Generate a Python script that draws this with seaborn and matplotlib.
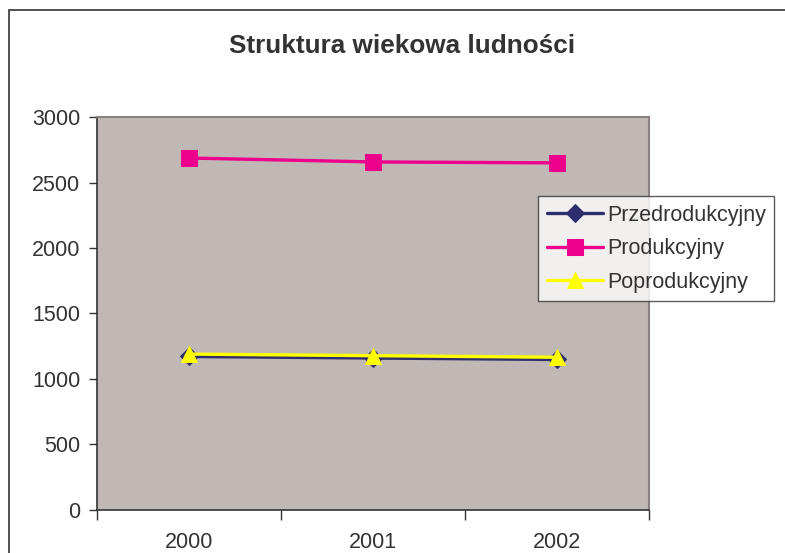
import pandas as pd
import matplotlib
matplotlib.use("Agg")
import matplotlib.pyplot as plt
import seaborn as sns
from matplotlib.patches import Rectangle

#   Data
years = [2000, 2001, 2002]
przedprodukcyjny = [1172, 1160, 1149]
produkcyjny = [2687, 2657, 2650]
poprodukcyjny = [1190, 1178, 1166]
series_names = ["Przedrodukcyjny", "Produkcyjny", "Poprodukcyjny"]
y_ticks = [0, 500, 1000, 1500, 2000, 2500, 3000]

df = pd.DataFrame({
    "Rok": years * 3,
    "Liczba": przedprodukcyjny + produkcyjny + poprodukcyjny,
    "Grupa": [series_names[0]] * 3 + [series_names[1]] * 3 + [series_names[2]] * 3,
})

sns.set_style("white")
plt.rcParams["font.family"] = ["Liberation Sans", "DejaVu Sans"]
text_color = "#333333"

fig = plt.figure(figsize=(7.85, 5.53), dpi=100)
ax = fig.add_axes([0.1236, 0.0778, 0.7032, 0.7106])

#   Outer chart frame
fig.patches.append(Rectangle((9 / 785, -0.1), 1.2, 1 - 10 / 553 + 0.1,
                             transform=fig.transFigure, fill=False,
                             edgecolor="#333333", linewidth=1.2))

palette = {"Przedrodukcyjny": "#2E2E6E", "Produkcyjny": "#EC008C", "Poprodukcyjny": "#FFFF00"}
markers = {"Przedrodukcyjny": "D", "Produkcyjny": "s", "Poprodukcyjny": "^"}
sizes = {"Przedrodukcyjny": 9, "Produkcyjny": 11, "Poprodukcyjny": 12}

for name in series_names:
    sub = df[df["Grupa"] == name]
    sns.lineplot(data=sub, x="Rok", y="Liczba", ax=ax, color=palette[name],
                 marker=markers[name], markersize=sizes[name], linewidth=2.4,
                 markeredgecolor=palette[name], label=name)

ax.set_facecolor("#C0B8B4")
ax.set_xlim(1999.5, 2002.5)
ax.set_ylim(0, 3000)
ax.set_yticks(y_ticks)
ax.set_xticks(years)
ax.set_xticks([1999.5, 2000.5, 2001.5, 2002.5], minor=True)
ax.set_xlabel("")
ax.set_ylabel("")
ax.tick_params(axis="y", which="major", direction="out", length=6, width=1,
               color="#333333", labelsize=15.5, labelcolor=text_color, pad=6, left=True)
ax.tick_params(axis="x", which="major", length=0, labelsize=15.5, labelcolor=text_color, pad=16)
ax.tick_params(axis="x", which="minor", direction="out", length=7, width=1,
               color="#333333", bottom=True)

for side in ["top", "right"]:
    ax.spines[side].set_color("#8A8080")
    ax.spines[side].set_linewidth(1.5)
for side in ["left", "bottom"]:
    ax.spines[side].set_color("#333333")
    ax.spines[side].set_linewidth(1.2)

fig.text(0.512, 0.916, "Struktura wiekowa ludności", ha="center", va="center",
         fontsize=18.8, fontweight="bold", color=text_color)

leg = ax.legend(loc="upper left", bbox_to_anchor=(538 / 785, 1 - 196 / 553),
                bbox_transform=fig.transFigure, fontsize=15.5, frameon=True,
                fancybox=False, edgecolor="#333333", handlelength=2.6,
                labelspacing=0.58, borderpad=0.4, handletextpad=0.2,
                borderaxespad=0)
leg.get_frame().set_linewidth(1.0)
for t in leg.get_texts():
    t.set_color(text_color)

fig.savefig("out.png", dpi=100, facecolor="white")
